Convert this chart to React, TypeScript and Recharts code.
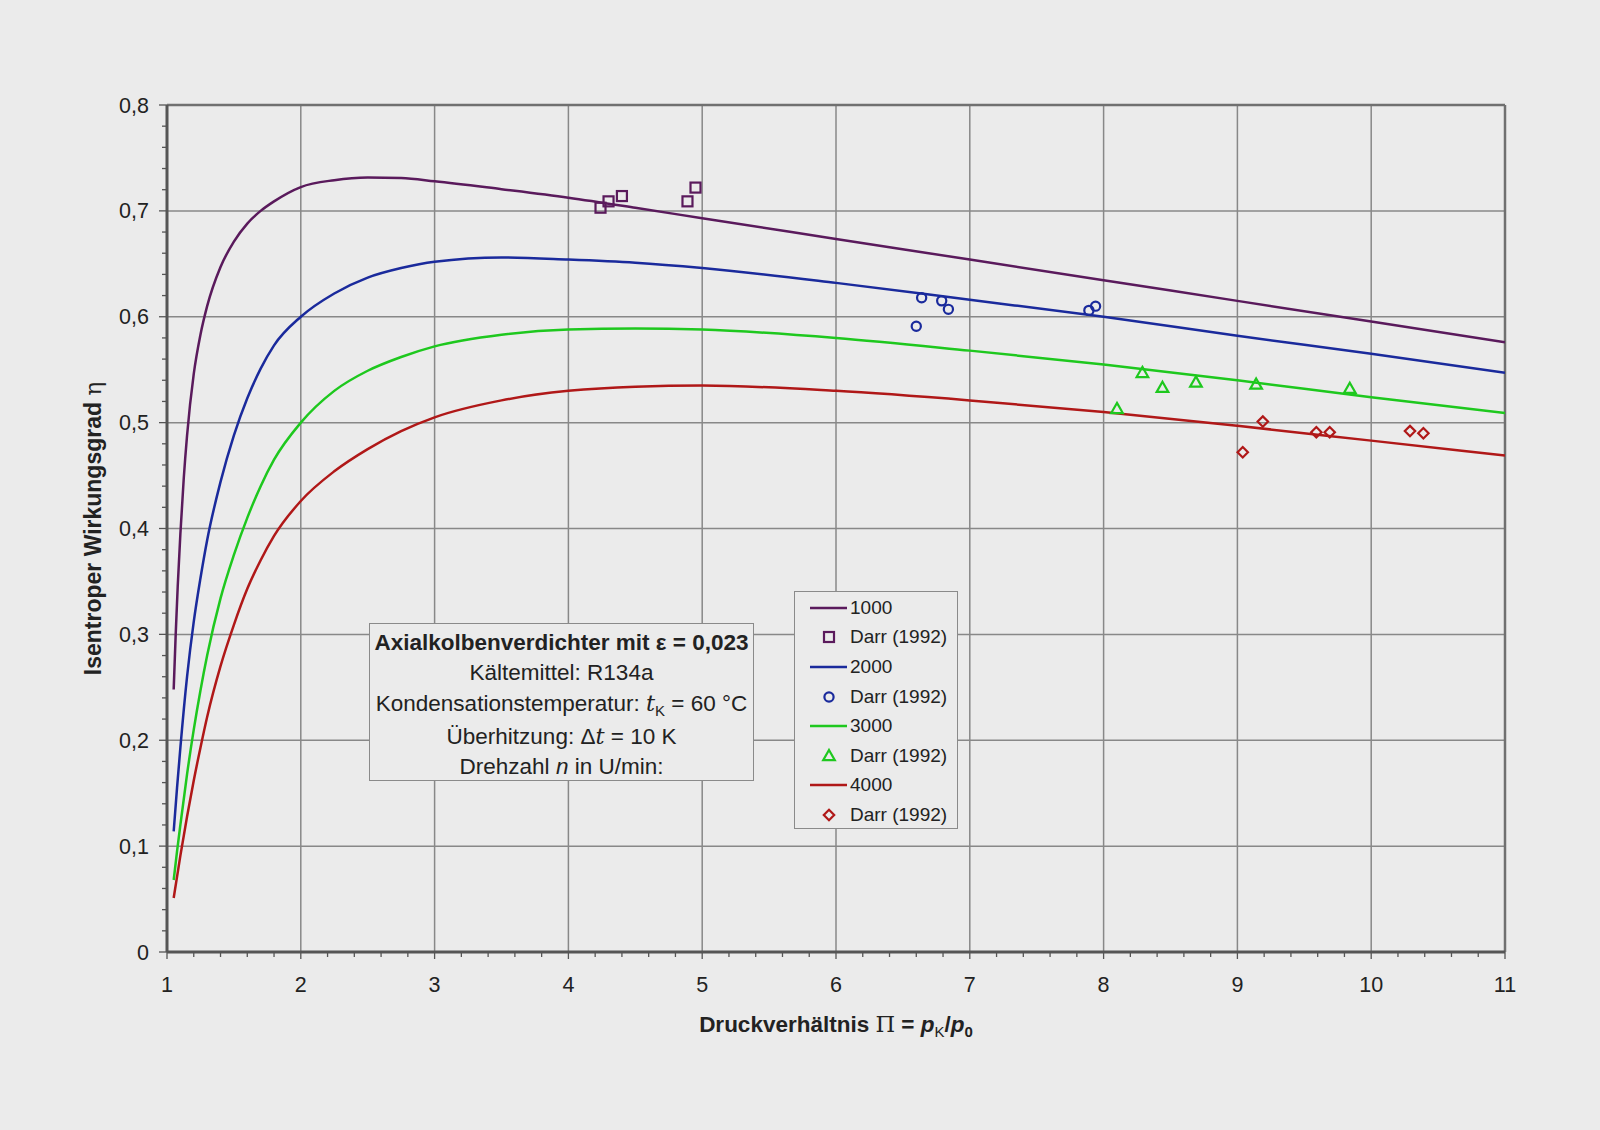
import React from "react";
import { ComposedChart, Line, Scatter, XAxis, YAxis, ReferenceLine, Legend } from "recharts";

// computed curves (Π, η) per speed n in U/min
const curve1000: [number, number][] = [
  [1.05, 0.248], [1.065, 0.3], [1.08, 0.345], [1.1, 0.395], [1.125, 0.447], [1.15, 0.488],
  [1.2, 0.546], [1.25, 0.583], [1.3, 0.61], [1.4, 0.647], [1.5, 0.671], [1.6, 0.688],
  [1.7, 0.7], [1.8, 0.709], [2.0, 0.7225], [2.25, 0.729], [2.5, 0.7315], [2.75, 0.731],
  [3.0, 0.728], [3.5, 0.7205], [4.0, 0.7125], [4.5, 0.703], [5.0, 0.693], [6.0, 0.6735],
  [7.0, 0.654], [8.0, 0.6345], [9.0, 0.615], [10.0, 0.5955], [11.0, 0.576],
];
const curve2000: [number, number][] = [
  [1.05, 0.114], [1.075, 0.155], [1.1, 0.193], [1.15, 0.26], [1.2, 0.312], [1.25, 0.353],
  [1.3, 0.389], [1.4, 0.444], [1.5, 0.488], [1.6, 0.523], [1.7, 0.551], [1.8, 0.573],
  [2.0, 0.6], [2.25, 0.622], [2.5, 0.637], [2.75, 0.646], [3.0, 0.652], [3.5, 0.656],
  [4.0, 0.654], [4.5, 0.651], [5.0, 0.646], [6.0, 0.632], [7.0, 0.616], [8.0, 0.6],
  [9.0, 0.582], [10.0, 0.565], [11.0, 0.547],
];
const curve3000: [number, number][] = [
  [1.05, 0.068], [1.075, 0.095], [1.1, 0.12], [1.15, 0.168], [1.2, 0.21], [1.25, 0.247],
  [1.3, 0.28], [1.4, 0.334], [1.5, 0.375], [1.6, 0.41], [1.7, 0.44], [1.8, 0.465],
  [2.0, 0.5], [2.25, 0.53], [2.5, 0.549], [2.75, 0.562], [3.0, 0.572], [3.5, 0.583],
  [4.0, 0.588], [4.5, 0.589], [5.0, 0.588], [6.0, 0.58], [7.0, 0.568], [8.0, 0.555],
  [9.0, 0.54], [10.0, 0.524], [11.0, 0.509],
];
const curve4000: [number, number][] = [
  [1.05, 0.051], [1.1, 0.091], [1.15, 0.128], [1.2, 0.162], [1.25, 0.193], [1.3, 0.222],
  [1.4, 0.27], [1.5, 0.309], [1.6, 0.343], [1.7, 0.37], [1.8, 0.393], [2.0, 0.426],
  [2.25, 0.454], [2.5, 0.475], [2.75, 0.492], [3.0, 0.505], [3.5, 0.521], [4.0, 0.53],
  [4.5, 0.534], [5.0, 0.535], [6.0, 0.53], [7.0, 0.521], [8.0, 0.51], [9.0, 0.497],
  [10.0, 0.483], [11.0, 0.469],
];

// measured points, Darr (1992)
const darr1000: [number, number][] = [[4.24, 0.703], [4.3, 0.709], [4.4, 0.714], [4.89, 0.709], [4.95, 0.722]];
const darr2000: [number, number][] = [[6.6, 0.591], [6.64, 0.618], [6.79, 0.615], [6.84, 0.607], [7.89, 0.606], [7.94, 0.61]];
const darr3000: [number, number][] = [[8.1, 0.513], [8.29, 0.547], [8.44, 0.533], [8.69, 0.538], [9.14, 0.536], [9.84, 0.532]];
const darr4000: [number, number][] = [[9.04, 0.472], [9.19, 0.501], [9.59, 0.491], [9.69, 0.491], [10.29, 0.492], [10.39, 0.49]];

const speeds = ["1000", "2000", "3000", "4000"];
const colors = ["#5a1a5c", "#1a2a9c", "#1ec81e", "#b01818"];
const markers = ["square", "circle", "triangle", "diamond"];
const darrLabel = "Darr (1992)";

const xMajor = [1, 2, 3, 4, 5, 6, 7, 8, 9, 10, 11];
const xLabels = ["1", "2", "3", "4", "5", "6", "7", "8", "9", "10", "11"];
const yMajor = [0, 0.1, 0.2, 0.3, 0.4, 0.5, 0.6, 0.7, 0.8];
const yLabels = ["0", "0,1", "0,2", "0,3", "0,4", "0,5", "0,6", "0,7", "0,8"];

const xTicks = Array.from({ length: 51 }, (_, i) => Number((1 + i * 0.2).toFixed(1)));
const yTicks = Array.from({ length: 41 }, (_, i) => Number((i * 0.02).toFixed(2)));

const toPts = (arr: [number, number][]) => arr.map(([x, y]) => ({ x, y }));
const curves = [curve1000, curve2000, curve3000, curve4000].map(toPts);
const darr = [darr1000, darr2000, darr3000, darr4000].map(toPts);

const FONT = "'Liberation Sans', Arial, Helvetica, sans-serif";
const BG = "#ebebeb";
const GRID = "#888888";
const AXIS = "#555555";

function Marker({ kind, cx, cy, color }: any) {
  const sw = 2.2;
  if (kind === "square")
    return <rect x={cx - 5} y={cy - 5} width={10} height={10} fill="none" stroke={color} strokeWidth={sw} />;
  if (kind === "circle") return <circle cx={cx} cy={cy} r={4.6} fill="none" stroke={color} strokeWidth={sw} />;
  if (kind === "triangle")
    return (
      <polygon
        points={`${cx},${cy - 6} ${cx + 5.8},${cy + 4.2} ${cx - 5.8},${cy + 4.2}`}
        fill="none"
        stroke={color}
        strokeWidth={sw}
      />
    );
  return (
    <polygon
      points={`${cx},${cy - 5.2} ${cx + 5.2},${cy} ${cx},${cy + 5.2} ${cx - 5.2},${cy}`}
      fill="none"
      stroke={color}
      strokeWidth={sw}
    />
  );
}

const isMajor = (v: number, step: number) => Math.abs(v / step - Math.round(v / step)) < 1e-6;

function XTick({ x, y, payload }: any) {
  const v = payload.value;
  const major = isMajor(v, 1);
  const idx = xMajor.findIndex((m) => Math.abs(m - v) < 1e-6);
  return (
    <g>
      <line x1={x} x2={x} y1={y} y2={y + (major ? 7 : 5)} stroke={AXIS} strokeWidth={1.3} />
      {major && idx >= 0 && (
        <text x={x} y={y + 40} textAnchor="middle" fontSize={21.5} fontFamily={FONT} fill="#222">
          {xLabels[idx]}
        </text>
      )}
    </g>
  );
}

function YTick({ x, y, payload }: any) {
  const v = payload.value;
  const major = isMajor(v, 0.1);
  const idx = yMajor.findIndex((m) => Math.abs(m - v) < 1e-6);
  return (
    <g>
      <line x1={x} x2={x - (major ? 8 : 5)} y1={y} y2={y} stroke={AXIS} strokeWidth={1.3} />
      {major && idx >= 0 && (
        <text x={x - 18} y={y + 7.5} textAnchor="end" fontSize={21.5} fontFamily={FONT} fill="#222">
          {yLabels[idx]}
        </text>
      )}
    </g>
  );
}

function XTitle({ viewBox }: any) {
  const cx = viewBox.x + viewBox.width / 2;
  const y = viewBox.y + 80;
  return (
    <text x={cx} y={y} textAnchor="middle" fontSize={22.5} fontWeight="bold" fontFamily={FONT} fill="#222">
      <tspan>Druckverhältnis </tspan>
      <tspan fontFamily="'DejaVu Serif', serif" fontWeight="normal">Π</tspan>
      <tspan> = </tspan>
      <tspan fontStyle="italic">p</tspan>
      <tspan fontSize={15} dy={5} fontWeight="normal">K</tspan>
      <tspan dy={-5}>/</tspan>
      <tspan fontStyle="italic">p</tspan>
      <tspan fontSize={15} dy={5}>0</tspan>
    </text>
  );
}

function YTitle({ viewBox }: any) {
  const cx = 101;
  const cy = viewBox.y + viewBox.height / 2;
  return (
    <text
      x={cx}
      y={cy}
      transform={`rotate(-90 ${cx} ${cy})`}
      textAnchor="middle"
      fontSize={23}
      fontWeight="bold"
      fontFamily={FONT}
      fill="#222"
    >
      <tspan>Isentroper Wirkungsgrad </tspan>
      <tspan fontFamily="'DejaVu Serif', serif" fontWeight="normal">η</tspan>
    </text>
  );
}

function LegendBox() {
  const rows: { label: string; color: string; marker?: string }[] = [];
  speeds.forEach((s, i) => {
    rows.push({ label: s, color: colors[i] });
    rows.push({ label: darrLabel, color: colors[i], marker: markers[i] });
  });
  return (
    <div
      style={{
        width: 164,
        height: 238,
        boxSizing: "border-box",
        border: "1px solid #8a8a8a",
        background: BG,
        paddingTop: 1,
        fontFamily: FONT,
        fontSize: 19,
        color: "#222",
      }}
    >
      {rows.map((r, i) => (
        <div key={i} style={{ height: 29.6, display: "flex", alignItems: "center" }}>
          <svg width={54} height={20} style={{ flex: "none" }}>
            {r.marker ? (
              <Marker kind={r.marker} cx={34} cy={10} color={r.color} />
            ) : (
              <line x1={15} x2={52} y1={10} y2={10} stroke={r.color} strokeWidth={2.5} />
            )}
          </svg>
          <span style={{ marginLeft: 1, whiteSpace: "nowrap" }}>{r.label}</span>
        </div>
      ))}
    </div>
  );
}

export default function App() {
  return (
    <div
      style={{
        position: "absolute",
        left: 0,
        top: 0,
        width: 1600,
        height: 1130,
        background: BG,
        fontFamily: FONT,
        overflow: "hidden",
      }}
    >
      <ComposedChart width={1600} height={1130} margin={{ top: 105, right: 95, bottom: 0, left: 0 }}>
        <XAxis
          dataKey="x"
          type="number"
          domain={[1, 11]}
          ticks={xTicks}
          interval={0}
          allowDataOverflow
          height={178}
          tickSize={0}
          tickMargin={0}
          tickLine={false}
          axisLine={{ stroke: AXIS, strokeWidth: 3 }}
          tick={<XTick />}
          label={<XTitle />}
        />
        <YAxis
          dataKey="y"
          type="number"
          domain={[0, 0.8]}
          ticks={yTicks}
          interval={0}
          allowDataOverflow
          width={167}
          tickSize={0}
          tickMargin={0}
          tickLine={false}
          axisLine={{ stroke: AXIS, strokeWidth: 3 }}
          tick={<YTick />}
          label={<YTitle />}
        />
        {xMajor.slice(1, -1).map((v) => (
          <ReferenceLine key={"gx" + v} x={v} stroke={GRID} strokeWidth={1.5} />
        ))}
        {yMajor.slice(1, -1).map((v) => (
          <ReferenceLine key={"gy" + v} y={v} stroke={GRID} strokeWidth={1.5} />
        ))}
        <ReferenceLine x={11} stroke="#707070" strokeWidth={2.5} />
        <ReferenceLine y={0.8} stroke="#707070" strokeWidth={2.5} />
        {curves.map((c, i) => (
          <Line
            key={"c" + i}
            data={c}
            dataKey="y"
            type="monotone"
            stroke={colors[i]}
            strokeWidth={2.5}
            dot={false}
            activeDot={false}
            isAnimationActive={false}
            name={speeds[i]}
          />
        ))}
        {darr.map((d, i) => (
          <Scatter
            key={"d" + i}
            data={d}
            dataKey="y"
            isAnimationActive={false}
            name={darrLabel}
            shape={(p: any) => <Marker kind={markers[i]} cx={p.cx} cy={p.cy} color={colors[i]} />}
          />
        ))}
        <Legend
          layout="vertical"
          align="center"
          verticalAlign="middle"
          content={() => <LegendBox />}
          wrapperStyle={{ left: 794, top: 591, width: 164, height: 238 }}
        />
      </ComposedChart>
      <div
        style={{
          position: "absolute",
          left: 369,
          top: 623,
          width: 385,
          height: 158,
          boxSizing: "border-box",
          border: "1px solid #8a8a8a",
          background: BG,
          paddingTop: 4,
          textAlign: "center",
          fontSize: 22.5,
          lineHeight: "30px",
          color: "#222",
          whiteSpace: "nowrap",
        }}
      >
        <div style={{ fontWeight: "bold" }}>Axialkolbenverdichter mit ε = 0,023</div>
        <div>Kältemittel: R134a</div>
        <div>
          Kondensationstemperatur: <i style={{ fontFamily: "'DejaVu Serif', serif" }}>t</i>
          <span style={{ fontSize: 15, position: "relative", top: 5 }}>K</span> = 60 °C
        </div>
        <div>
          Überhitzung: Δ<i style={{ fontFamily: "'DejaVu Serif', serif" }}>t</i> = 10 K
        </div>
        <div>
          Drehzahl <i>n</i> in U/min:
        </div>
      </div>
    </div>
  );
}
